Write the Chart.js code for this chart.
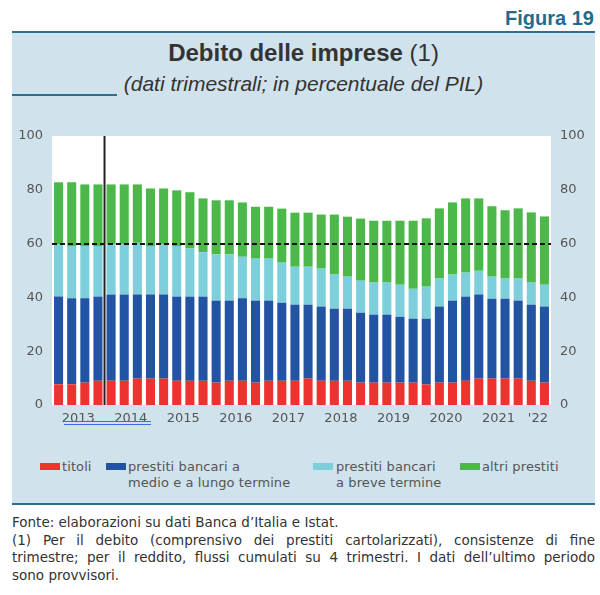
<!DOCTYPE html>
<html>
<head>
<meta charset="utf-8">
<script src="https://cdn.jsdelivr.net/npm/chart.js@4/dist/chart.umd.min.js"></script>
<style>
html,body{margin:0;padding:0;background:#fff;width:600px;height:595px;overflow:hidden;}
#wrap{position:relative;width:600px;height:595px;font-family:"Liberation Sans",Arial,sans-serif;}
#panel{position:absolute;left:12px;top:31px;width:583px;height:474px;background:#d0e2eb;border-top:2px solid #2a7090;border-bottom:2px solid #2f6d8e;box-sizing:border-box;}
#fig{position:absolute;right:6px;top:6px;font-size:20px;font-weight:bold;color:#1f6d8c;line-height:24px;}
#title{position:absolute;left:12px;width:583px;top:39px;text-align:center;font-size:24px;line-height:28px;color:#333;}
#title b{font-weight:bold;}
#sub{position:absolute;left:12px;width:583px;top:72px;text-align:center;font-size:21px;line-height:24px;font-style:italic;color:#333;}
#subline{position:absolute;left:12px;top:94px;width:105px;height:2px;background:#2a7090;}
#chartbox{position:absolute;left:0;top:0;width:600px;height:440px;}
#uline{position:absolute;left:64px;top:421px;width:87px;height:2px;border-top:1px solid #3a6de0;border-bottom:1px solid #3a6de0;}
.lg{position:absolute;font-family:"DejaVu Sans",sans-serif;font-size:13px;line-height:16px;color:#555;letter-spacing:0.1px;}
.bx{position:absolute;width:20px;height:7px;}
#foot{position:absolute;left:12px;top:514px;width:583px;font-family:"DejaVu Sans",sans-serif;font-size:13.5px;line-height:17.6px;color:#333;}
#foot div{white-space:nowrap;}
#foot div.j{text-align:justify;text-align-last:justify;}
</style>
</head>
<body>
<div id="wrap">
  <div id="panel"></div>
  <div id="fig">Figura 19</div>
  <div id="title"><b>Debito delle imprese</b> (1)</div>
  <div id="sub">(dati trimestrali; in percentuale del PIL)</div>
  <div id="subline"></div>
  <div id="chartbox"><canvas id="c" width="600" height="440"></canvas></div>
  <div id="uline"></div>
  <div id="legend"></div>
  <div id="foot">
    <div>Fonte: elaborazioni su dati Banca d’Italia e Istat.</div>
    <div class="j">(1) Per il debito (comprensivo dei prestiti cartolarizzati), consistenze di fine</div>
    <div class="j">trimestre; per il reddito, flussi cumulati su 4 trimestri. I dati dell’ultimo periodo</div>
    <div>sono provvisori.</div>
  </div>
</div>
<script>
// ---- data ----
const years = ['2013','2014','2015','2016','2017','2018','2019','2020','2021',"'22"];
const quartersPerYear = [4,4,4,4,4,4,4,4,4,2];
const titoli =        [7.7,7.7,8.3,9.0, 9.0,9.0,9.8,9.8, 9.8,9.0,9.0,9.0, 8.3,9.0,9.0,8.3, 9.0,9.0,9.0,9.8, 9.0,9.0,9.0,8.3, 8.3,8.3,8.3,8.3, 7.6,8.3,8.3,9.0, 9.8,9.8,9.8,9.8, 9.0,8.3];
const mlTermine =     [32.6,32.0,31.4,31.3, 32.1,32.1,31.3,31.3, 31.3,31.3,31.3,31.3, 30.5,29.8,30.7,30.5, 29.8,29.0,28.3,27.5, 27.6,26.8,26.8,26.0, 25.3,25.3,24.5,23.8, 24.5,28.3,30.5,31.3, 31.3,29.7,29.7,29.0, 28.3,28.3];
const breveTermine =  [19.4,19.4,19.4,18.8, 18.6,18.6,19.2,18.0, 18.6,18.8,17.9,16.5, 17.2,17.2,15.4,15.6, 15.6,14.9,14.1,14.1, 14.1,12.7,11.9,11.9, 11.9,11.9,11.9,11.1, 11.9,10.4,9.7,8.9, 8.8,8.2,7.5,8.2, 8.2,8.1];
const altriPrestiti = [23.1,23.7,22.9,22.9, 22.3,22.3,21.7,21.4, 20.8,20.7,20.9,20.0, 20.1,20.1,20.2,19.3, 19.3,20.1,20.1,20.1, 20.1,22.3,22.3,23.1, 23.0,23.0,23.8,25.3, 25.4,26.1,26.8,27.6, 26.9,26.2,25.4,26.1, 26.1,25.4];
const yTicks = [0,20,40,60,80,100];
const refLine = 60;
const seriesNames = ['titoli', ['prestiti bancari a','medio e a lungo termine'], ['prestiti bancari','a breve termine'], 'altri prestiti'];
const colors = ['#ec3330', '#2254a3', '#7ccfdb', '#4cb849'];

// categories & tick labels
const categories = [];
const tickLabels = [];
years.forEach((y, yi) => {
  const n = quartersPerYear[yi];
  for (let q = 0; q < n; q++) {
    categories.push(y + ' T' + (q + 1));
    tickLabels.push(q === Math.floor((n - 1) / 2) ? y : '');
  }
});

// ---- plugins ----
const plotBg = {
  id: 'plotBg',
  beforeDraw(chart) {
    const a = chart.chartArea, ctx = chart.ctx;
    ctx.save(); ctx.fillStyle = '#ffffff';
    ctx.fillRect(a.left, a.top, a.right - a.left, a.bottom - a.top);
    ctx.restore();
  }
};
const refLines = {
  id: 'refLines',
  afterDatasetsDraw(chart) {
    const a = chart.chartArea, ctx = chart.ctx;
    const ys = chart.scales.y, xs = chart.scales.x;
    ctx.save();
    // dashed line at 60
    const yy = Math.round(ys.getPixelForValue(refLine));
    ctx.strokeStyle = '#111'; ctx.lineWidth = 1.8; ctx.setLineDash([5, 3]);
    ctx.beginPath(); ctx.moveTo(a.left, yy); ctx.lineTo(a.right, yy); ctx.stroke();
    // vertical separator between 2013 and 2014
    const xx = (xs.getPixelForValue(3) + xs.getPixelForValue(4)) / 2;
    ctx.setLineDash([]); ctx.strokeStyle = '#222'; ctx.lineWidth = 2;
    ctx.beginPath(); ctx.moveTo(xx, a.top); ctx.lineTo(xx, a.bottom); ctx.stroke();
    ctx.restore();
  }
};

const tickFont = {family: 'DejaVu Sans', size: 13};
const yAxisBase = {
  min: 0, max: 100,
  grid: {display: false, drawTicks: false},
  border: {display: false},
  ticks: {stepSize: 20, padding: 9, color: '#555', font: tickFont}
};

new Chart(document.getElementById('c'), {
  type: 'bar',
  data: {
    labels: categories,
    datasets: [
      {label: 'titoli', data: titoli, backgroundColor: colors[0]},
      {label: 'prestiti bancari a medio e a lungo termine', data: mlTermine, backgroundColor: colors[1]},
      {label: 'prestiti bancari a breve termine', data: breveTermine, backgroundColor: colors[2]},
      {label: 'altri prestiti', data: altriPrestiti, backgroundColor: colors[3]}
    ]
  },
  options: {
    responsive: false,
    animation: false,
    layout: {padding: {top: 136, left: 0, right: 0, bottom: 0}},
    plugins: {legend: {display: false}, tooltip: {enabled: false}},
    datasets: {bar: {categoryPercentage: 1, barPercentage: 0.69, borderWidth: 0}},
    scales: {
      x: {
        stacked: true,
        grid: {display: false, drawTicks: false},
        border: {display: false},
        ticks: {autoSkip: false, maxRotation: 0, minRotation: 0, padding: 6, labelOffset: 6.57,
                color: '#555', font: tickFont, callback: (v, i) => tickLabels[i]},
        afterFit: s => { s.height = 35; }
      },
      y: Object.assign({}, yAxisBase, {stacked: true, position: 'left', afterFit: s => { s.width = 52; }}),
      y2: Object.assign({}, yAxisBase, {position: 'right', afterFit: s => { s.width = 49; }})
    }
  },
  plugins: [plotBg, refLines]
});

// ---- HTML legend ----
const lgPos = [{bx: 40, tx: 62}, {bx: 106, tx: 128}, {bx: 313, tx: 336}, {bx: 460, tx: 482}];
const lg = document.getElementById('legend');
seriesNames.forEach((name, i) => {
  const b = document.createElement('div');
  b.className = 'bx'; b.style.left = lgPos[i].bx + 'px'; b.style.top = '463px'; b.style.background = colors[i];
  lg.appendChild(b);
  const t = document.createElement('div');
  t.className = 'lg'; t.style.left = lgPos[i].tx + 'px'; t.style.top = '459px';
  t.innerHTML = (Array.isArray(name) ? name : [name]).join('<br>');
  lg.appendChild(t);
});
</script>
</body>
</html>
